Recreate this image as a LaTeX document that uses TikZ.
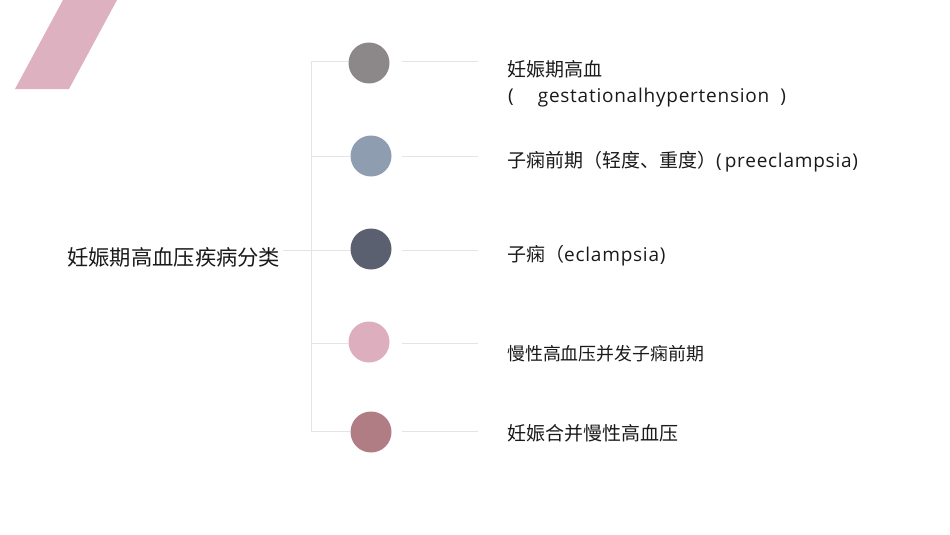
\documentclass[tikz,border=0pt]{standalone}
\usepackage{fontspec}
\setmainfont{Open Sans}[LetterSpace=4]
\newfontfamily\cjk{Noto Sans CJK SC}
\definecolor{bandpink}{HTML}{DDB1C0}
\definecolor{cone}{HTML}{8C8789}
\definecolor{ctwo}{HTML}{8E9EB0}
\definecolor{cthree}{HTML}{5A6070}
\definecolor{cfour}{HTML}{DDAEBD}
\definecolor{cfive}{HTML}{B17D84}
\definecolor{linegray}{HTML}{E4E4E4}
\definecolor{txt}{HTML}{1A1A1A}
\tikzset{
  dot/.style={circle, minimum size=41pt, inner sep=0pt, draw=none},
  conn/.style={draw=linegray, line width=1pt},
  label/.style={anchor=west, inner sep=0pt, text=txt, align=left, font=\fontsize{19}{26}\selectfont},
  titlelabel/.style={anchor=west, inner sep=0pt, text=txt, font=\fontsize{21.3}{24}\selectfont}
}
\begin{document}
\begin{tikzpicture}[x=1pt,y=-1pt]
\useasboundingbox (0,0) rectangle (950,535);
% decorative band
\fill[bandpink] (15,89) -- (69,89) -- (117,0) -- (63,0) -- cycle;
% title
\node[titlelabel] (title) at (67,257) {\cjk 妊娠期高血压疾病分类};
% bracket coordinates
\coordinate (tend) at (283,250);
\coordinate (b1) at (311,62);
\coordinate (b2) at (311,156);
\coordinate (b3) at (311,250);
\coordinate (b4) at (311,343);
\coordinate (b5) at (311,431);
% circles
\node[dot, fill=cone] (c1) at (369,63) {};
\node[dot, fill=ctwo] (c2) at (371,156) {};
\node[dot, fill=cthree] (c3) at (371,249) {};
\node[dot, fill=cfour] (c4) at (369,342) {};
\node[dot, fill=cfive] (c5) at (371,432) {};
% right line ends
\coordinate (r1s) at (402,62);  \coordinate (r1e) at (478,62);
\coordinate (r2s) at (402,156); \coordinate (r2e) at (478,156);
\coordinate (r3s) at (402,250); \coordinate (r3e) at (478,250);
\coordinate (r4s) at (402,343); \coordinate (r4e) at (478,343);
\coordinate (r5s) at (402,431); \coordinate (r5e) at (478,431);
% connectors
\draw[conn] (b1) -- (b5);
\draw[conn] (tend) -- (b3);
\draw[conn] (b1) -- (c1.west |- b1);
\draw[conn] (b2) -- (c2.west |- b2);
\draw[conn] (b3) -- (c3.west |- b3);
\draw[conn] (b4) -- (c4.west |- b4);
\draw[conn] (b5) -- (c5.west |- b5);
\draw[conn] (r1s) -- (r1e);
\draw[conn] (r2s) -- (r2e);
\draw[conn] (r3s) -- (r3e);
\draw[conn] (r4s) -- (r4e);
\draw[conn] (r5s) -- (r5e);
% labels
\node[label] (t1) at (507,84) {{\cjk 妊娠期高血}\\[0pt]\hspace{1pt}(\hspace{24pt}gestationalhypertension\hspace{11pt})};
\node[label] (t2) at (507,162) {{\cjk 子痫前期（轻度、重度）}(\hspace{3pt}preeclampsia)};
\node[label] (t3) at (507,256) {{\cjk 子痫（}eclampsia)};
\node[label, font=\fontsize{17.9}{24}\selectfont] (t4) at (507,354) {\cjk 慢性高血压并发子痫前期};
\node[label] (t5) at (507,433) {\cjk 妊娠合并慢性高血压};
\end{tikzpicture}
\end{document}
